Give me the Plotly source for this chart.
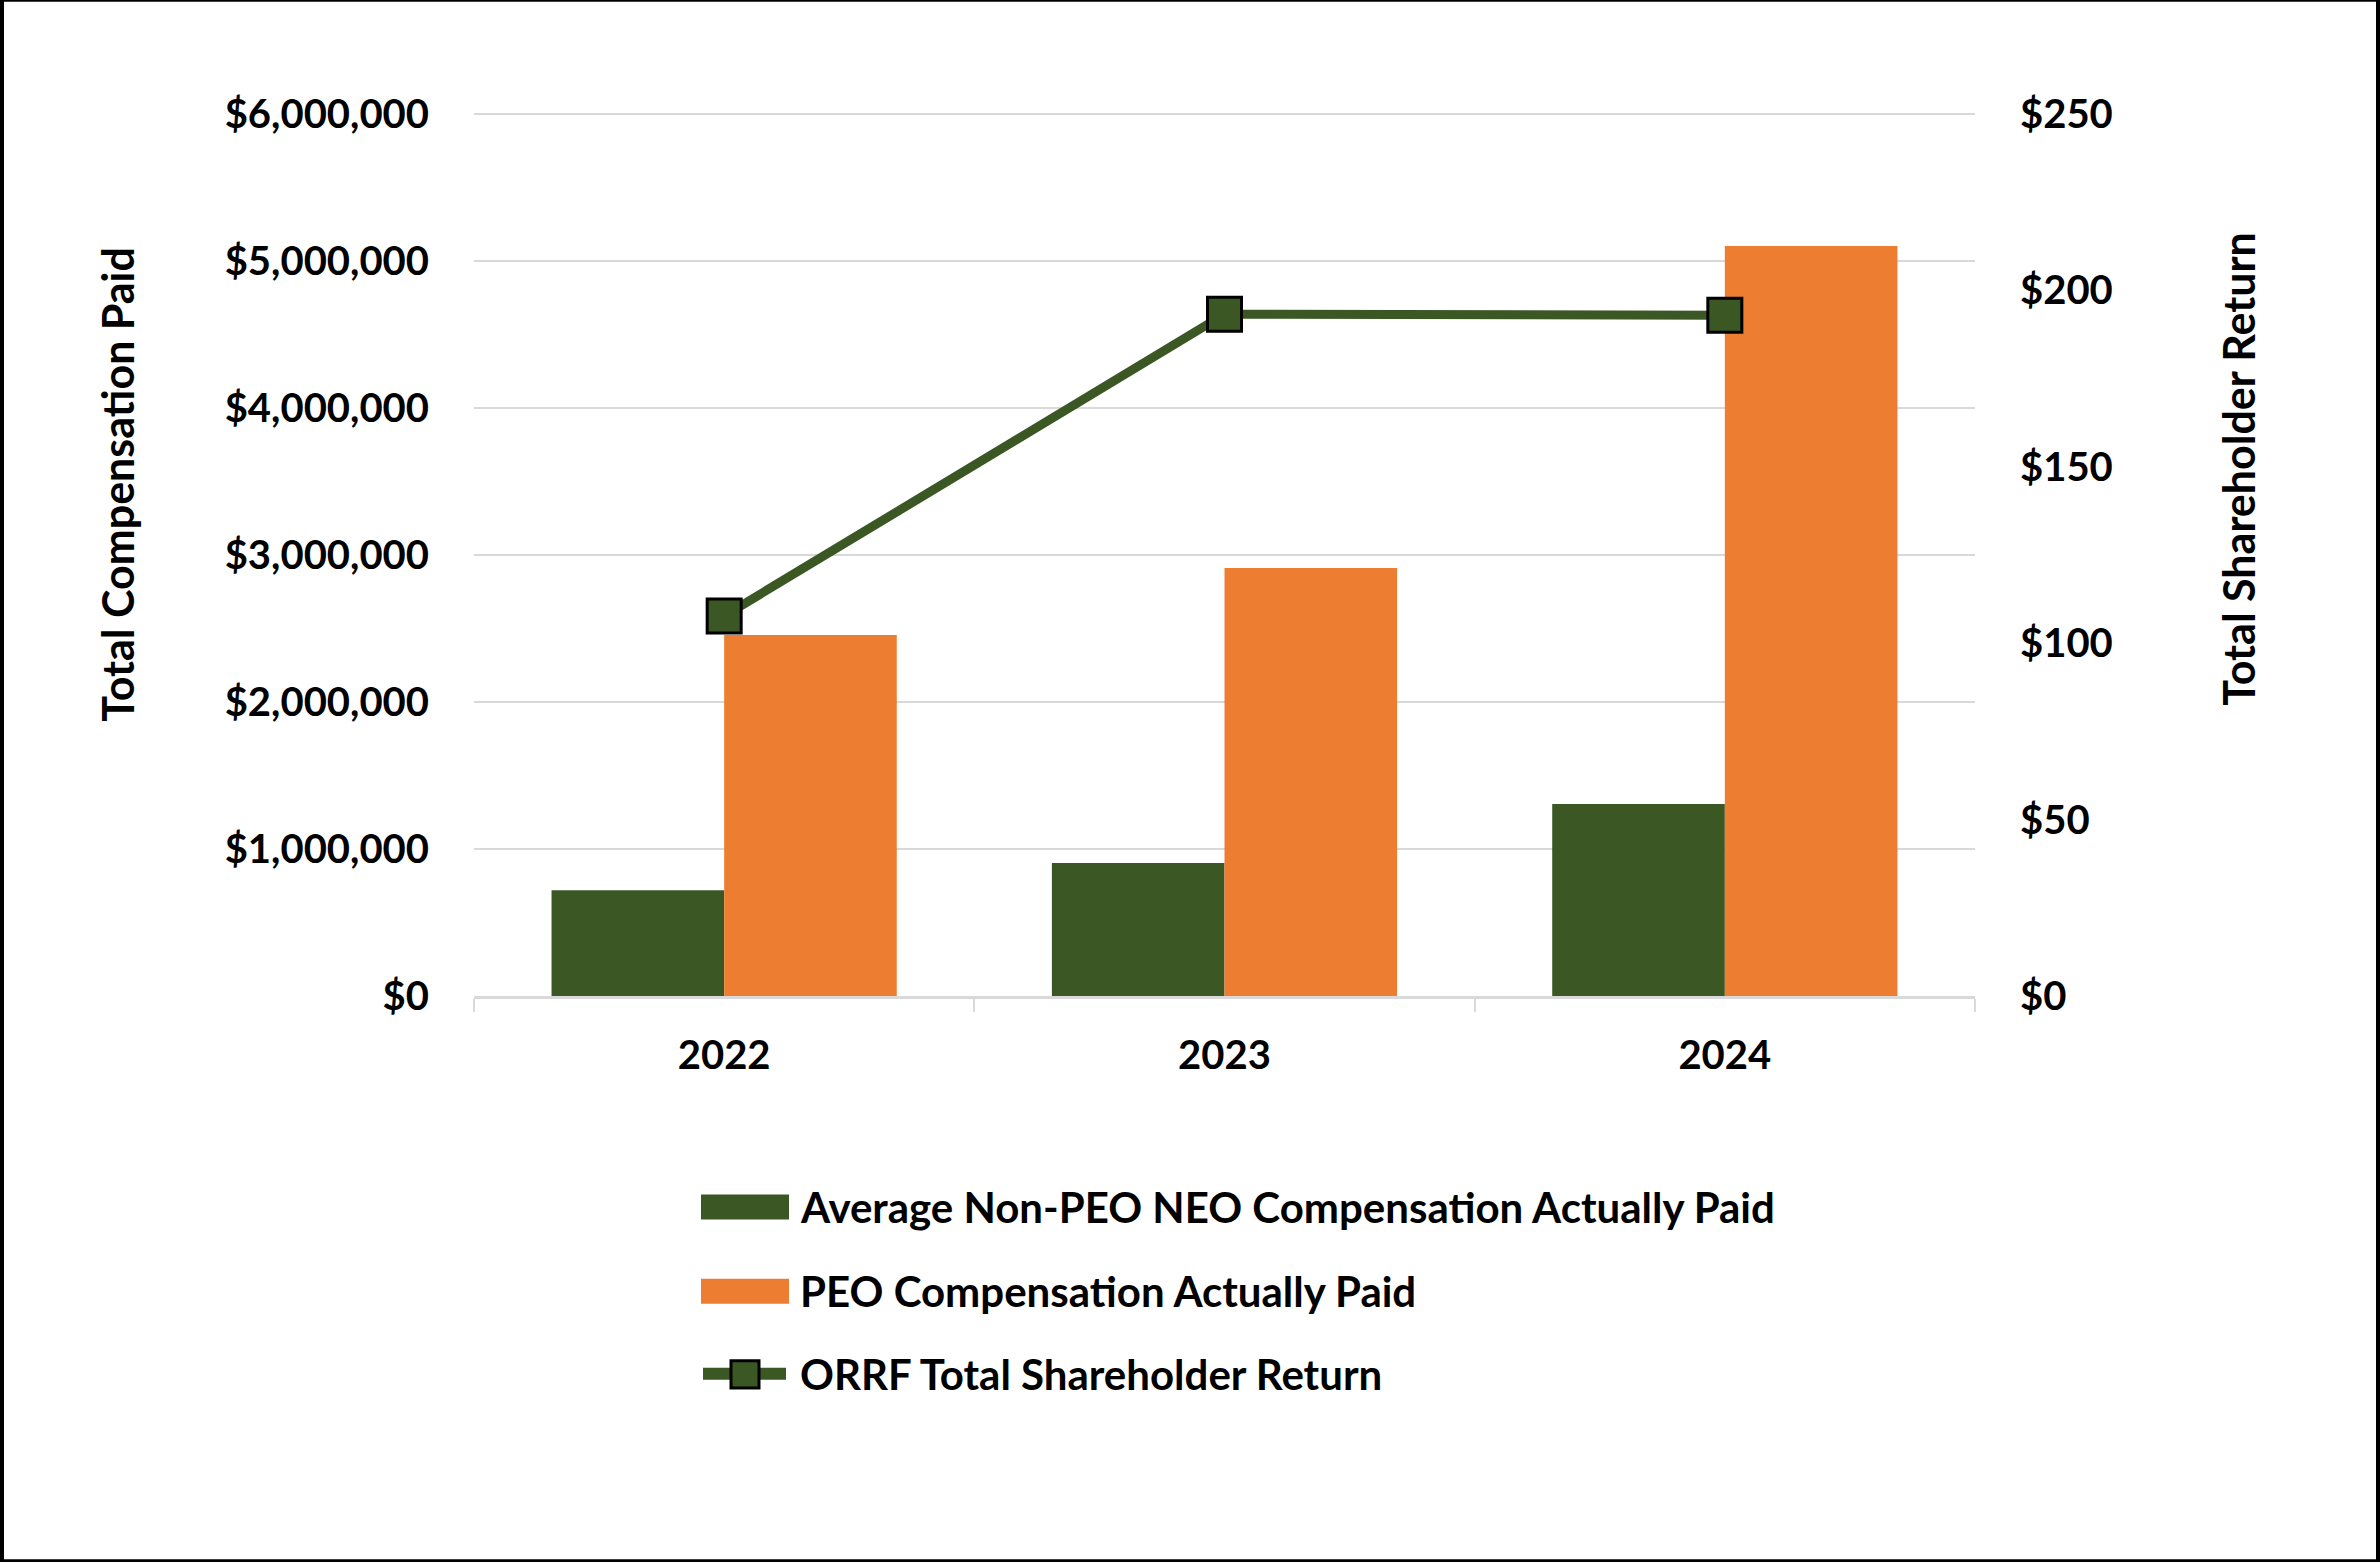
import plotly.graph_objects as go

# ---- data ----
years = ["2022", "2023", "2024"]
non_peo_cap = [720000, 905000, 1305000]
peo_cap = [2455000, 2910000, 5100000]
tsr = [107.7, 193.2, 192.9]

left_ticks = [0, 1000000, 2000000, 3000000, 4000000, 5000000, 6000000]
left_tick_labels = ["$0", "$1,000,000", "$2,000,000", "$3,000,000",
                    "$4,000,000", "$5,000,000", "$6,000,000"]
right_ticks = [0, 50, 100, 150, 200, 250]
right_tick_labels = ["$0", "$50", "$100", "$150", "$200", "$250"]

series_names = [
    "Average Non-PEO NEO Compensation Actually Paid",
    "PEO Compensation Actually Paid",
    "ORRF Total Shareholder Return",
]

GREEN = "#3A5724"
ORANGE = "#ED7D31"
GRID = "#D9D9D9"
FONT = "Lato"

W, H = 2380, 1562
L, R, T, B = 474, 1975, 114, 996  # plot area in pixels
EXT = 1.002  # tiny range headroom so the top gridline is drawn


def px_x(X):
    return (X - L) / (R - L)


def px_y(Y):
    return (B - Y) / (B - T)


fig = go.Figure()
fig.add_trace(go.Bar(x=years, y=non_peo_cap, name=series_names[0],
                     marker=dict(color=GREEN, line=dict(width=0)), showlegend=False))
fig.add_trace(go.Bar(x=years, y=peo_cap, name=series_names[1],
                     marker=dict(color=ORANGE, line=dict(width=0)), showlegend=False))
fig.add_trace(go.Scatter(x=years, y=tsr, name=series_names[2], yaxis="y2",
                         mode="lines+markers",
                         line=dict(color=GREEN, width=9),
                         marker=dict(symbol="square", size=34, color=GREEN,
                                     line=dict(color="black", width=3)),
                         showlegend=False))

tickfont = dict(family=FONT, size=40, color="black", weight="bold")

fig.update_layout(
    width=W, height=H, autosize=False,
    margin=dict(l=L, r=W - R, t=T - 2, b=H - B, pad=0),
    paper_bgcolor="white", plot_bgcolor="white",
    barmode="group", bargap=0.31, bargroupgap=0,
    showlegend=False,
    xaxis=dict(type="category", tickfont=tickfont,
               showline=True, linecolor=GRID, linewidth=3,
               ticks="outside", tickson="boundaries", ticklen=13,
               tickcolor=GRID, tickwidth=2, ticklabelstandoff=22,
               showgrid=False),
    yaxis=dict(range=[0, 6000000 * EXT], tickvals=left_ticks, ticktext=left_tick_labels,
               tickfont=tickfont,
               showgrid=True, gridcolor=GRID, gridwidth=2,
               zeroline=False, showline=False, ticks="",
               ticklabelstandoff=44),
    yaxis2=dict(range=[0, 250 * EXT], tickvals=right_ticks, ticktext=right_tick_labels,
                overlaying="y", side="right", tickfont=tickfont,
                showgrid=False, zeroline=False, showline=False, ticks="",
                ticklabelstandoff=44),
)

shapes = []
# outer frame
shapes.append(dict(type="rect", xref="paper", yref="paper",
                   x0=px_x(2), x1=px_x(W - 2), y0=px_y(H - 2), y1=px_y(2),
                   line=dict(color="black", width=4), fillcolor="rgba(0,0,0,0)",
                   layer="above"))
# legend swatches
shapes.append(dict(type="rect", xref="paper", yref="paper",
                   x0=px_x(701), x1=px_x(789), y0=px_y(1219), y1=px_y(1194),
                   fillcolor=GREEN, line=dict(width=0)))
shapes.append(dict(type="rect", xref="paper", yref="paper",
                   x0=px_x(701), x1=px_x(789), y0=px_y(1303), y1=px_y(1278),
                   fillcolor=ORANGE, line=dict(width=0)))
shapes.append(dict(type="line", xref="paper", yref="paper",
                   x0=px_x(703), x1=px_x(786), y0=px_y(1373), y1=px_y(1373),
                   line=dict(color=GREEN, width=12)))
shapes.append(dict(type="rect", xref="paper", yref="paper",
                   x0=px_x(731), x1=px_x(759), y0=px_y(1387), y1=px_y(1360),
                   fillcolor=GREEN, line=dict(color="black", width=3)))

annotations = []
legend_y = [1207, 1290, 1373]
for name, yy in zip(series_names, legend_y):
    annotations.append(dict(text=name, xref="paper", yref="paper",
                            x=px_x(798), y=px_y(yy), xanchor="left", yanchor="middle",
                            showarrow=False,
                            font=dict(family=FONT, size=42, color="black", weight="bold")))
annotations.append(dict(text="Total Compensation Paid", xref="paper", yref="paper",
                        x=px_x(118), y=px_y(486), textangle=-90,
                        xanchor="center", yanchor="middle", showarrow=False,
                        font=dict(family=FONT, size=43, color="black", weight="bold")))
annotations.append(dict(text="Total Shareholder Return", xref="paper", yref="paper",
                        x=px_x(2239), y=px_y(470), textangle=-90,
                        xanchor="center", yanchor="middle", showarrow=False,
                        font=dict(family=FONT, size=43, color="black", weight="bold")))

fig.update_layout(shapes=shapes, annotations=annotations)

fig.write_html("out.html", config={"displayModeBar": False},
               post_script="document.body.style.margin='0';document.body.style.overflow='hidden';")
